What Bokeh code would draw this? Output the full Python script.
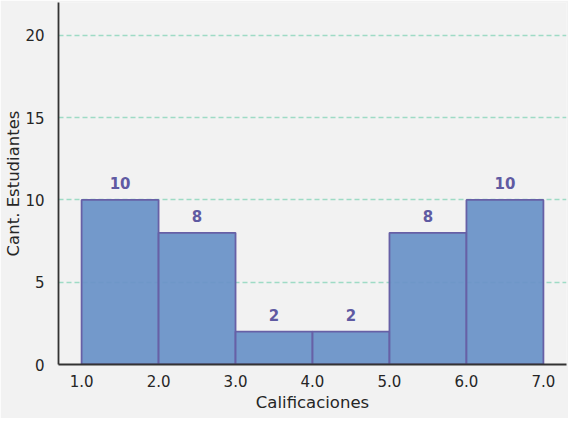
from bokeh.plotting import figure
from bokeh.models import ColumnDataSource, FixedTicker, CustomJSTickFormatter, Range1d
from bokeh.embed import file_html
from bokeh.resources import INLINE
from bokeh.core.properties import value

bin_left = [1.0, 2.0, 3.0, 4.0, 5.0, 6.0]
bin_right = [2.0, 3.0, 4.0, 5.0, 6.0, 7.0]
counts = [10, 8, 2, 2, 8, 10]
x_ticks = [1.0, 2.0, 3.0, 4.0, 5.0, 6.0, 7.0]
y_ticks = [0, 5, 10, 15, 20]

src = ColumnDataSource(dict(
    left=bin_left, right=bin_right, top=counts,
    mid=[(a + b) / 2 for a, b in zip(bin_left, bin_right)],
    lab=[str(c) for c in counts],
))

p = figure(width=568, height=418, output_backend="svg", toolbar_location=None,
           x_range=Range1d(0.7, 7.3), y_range=Range1d(0, 22),
           background_fill_color="#f2f2f2", border_fill_color="#f2f2f2",
           min_border_left=58, min_border_right=2, min_border_top=2, min_border_bottom=54)
p.outline_line_color = None

p.quad(left="left", right="right", bottom=0, top="top", source=src,
       fill_color="#6c94c8", fill_alpha=0.95, line_color="#6760a6", line_width=1.8)
p.text(x="mid", y="top", text="lab", source=src, text_align="center", text_baseline="alphabetic",
       y_offset=-17, text_color="#5f5aa2", text_font_size="15px", text_font_style="bold",
       text_font=value("DejaVu Sans"))

p.xgrid.grid_line_color = None
p.ygrid.grid_line_color = "#9edbc5"
p.ygrid.grid_line_dash = "5 3"
p.ygrid.grid_line_width = 1.3
p.ygrid.ticker = FixedTicker(ticks=y_ticks)

for ax in (p.xaxis[0], p.yaxis[0]):
    ax.axis_line_color = "#333333"
    ax.axis_line_width = 1.8
    ax.major_tick_line_color = None
    ax.minor_tick_line_color = None
    ax.major_tick_out = 0
    ax.major_tick_in = 0
    ax.minor_tick_out = 0
    ax.minor_tick_in = 0
    ax.major_label_text_font = "DejaVu Sans"
    ax.major_label_text_font_size = "15px"
    ax.major_label_text_color = "#262626"
    ax.axis_label_text_font = "DejaVu Sans"
    ax.axis_label_text_font_size = "16.5px"
    ax.axis_label_text_font_style = "normal"
    ax.axis_label_text_color = "#262626"

p.xaxis.ticker = FixedTicker(ticks=x_ticks)
p.xaxis.formatter = CustomJSTickFormatter(code="return tick.toFixed(1);")
p.yaxis.ticker = FixedTicker(ticks=y_ticks)
p.xaxis.axis_label = "Calificaciones"
p.yaxis.axis_label = "Cant. Estudiantes"
p.xaxis.major_label_standoff = 10
p.yaxis.major_label_standoff = 14
p.xaxis.axis_label_standoff = 3
p.yaxis.axis_label_standoff = -1

open("out.html", "w").write(file_html(p, INLINE))
